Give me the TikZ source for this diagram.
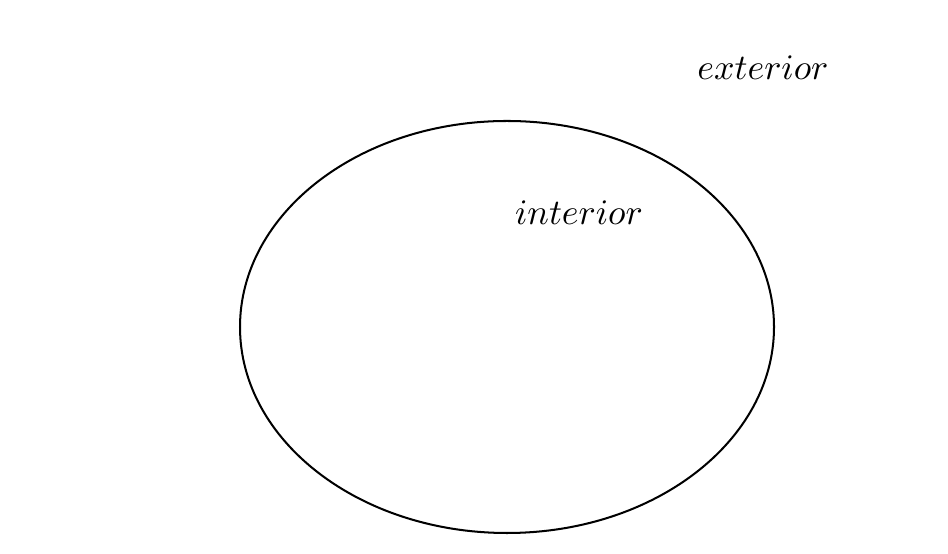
\documentclass[tikz,border=0pt]{standalone}
\begin{document}
\begin{tikzpicture}[x=0.273pt,y=-0.273pt,
  lbl/.style={inner sep=0pt, font=\normalsize, scale=0.98},
  region/.style={draw=black, line width=0.55pt}]
\useasboundingbox (0,0) rectangle (948,554);
\draw[region] (507,327) ellipse [x radius=267, y radius=206];
\node[lbl] (int) at (579,213) {$interior$};
\node[lbl] (ext) at (763,68) {$exterior$};
\end{tikzpicture}
\end{document}
